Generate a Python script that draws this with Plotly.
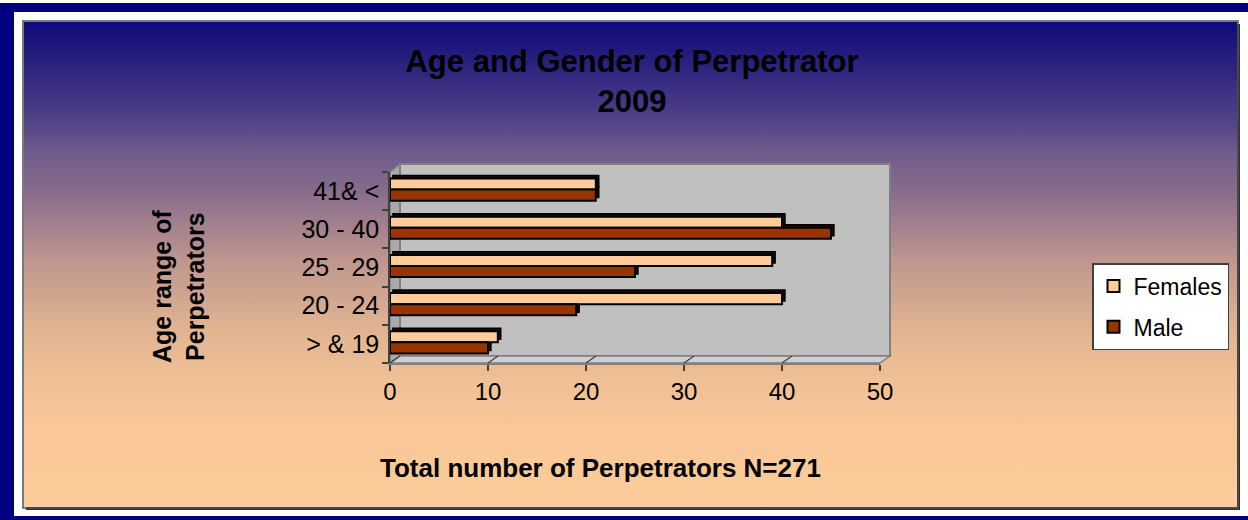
import base64
import plotly.graph_objects as go

# ---------------- data ----------------
categories = ["> & 19", "20 - 24", "25 - 29", "30 - 40", "41& <"]
females = [11, 40, 39, 40, 21]
males = [10, 19, 25, 45, 21]
tick_vals = [0, 10, 20, 30, 40, 50]
tick_text = ["0", "10", "20", "30", "40", "50"]

# ---------------- helpers (pixel -> paper) ----------------
W, H = 1248, 520


def px(x):
    return x / W


def py(y):
    return 1 - y / H


FONT = "Liberation Sans, Arial, sans-serif"
FEMALE_COLOR = "#FFCC99"
MALE_COLOR = "#993300"

# background gradient (navy -> peach) as an inline SVG image
grad_stops = [
    (0.00, "rgb(14,10,124)"),
    (0.08, "rgb(40,32,125)"),
    (0.20, "rgb(80,65,135)"),
    (0.265, "rgb(110,90,140)"),
    (0.35, "rgb(135,108,140)"),
    (0.49, "rgb(190,150,142)"),
    (0.635, "rgb(225,180,145)"),
    (0.74, "rgb(240,192,150)"),
    (0.86, "rgb(250,200,152)"),
    (1.00, "rgb(252,204,154)"),
]
stops_svg = "".join(
    f'<stop offset="{o}" stop-color="{c}"/>' for o, c in grad_stops
)
svg = (
    '<svg xmlns="http://www.w3.org/2000/svg" width="1215" height="487" '
    'preserveAspectRatio="none"><defs><linearGradient id="g" x1="0" y1="0" '
    f'x2="0" y2="1">{stops_svg}</linearGradient></defs>'
    '<rect x="0" y="0" width="1215" height="487" fill="url(#g)"/></svg>'
)
svg_src = "data:image/svg+xml;base64," + base64.b64encode(svg.encode()).decode()

BAR_W = 0.29
F_OFF = 0.04
M_OFF = -0.25
DEPTH_X = 0.3    # 3D depth in x units (~3 px)
DEPTH_Y = 0.08   # 3D depth in category units (~3 px)

fig = go.Figure()

# 3D depth faces (drawn first, behind the front faces)
for vals, off in ((females, F_OFF), (males, M_OFF)):
    fig.add_trace(go.Bar(
        y=categories, x=vals, base=DEPTH_X, orientation="h",
        xaxis="x2", yaxis="y2", width=BAR_W, offset=off + DEPTH_Y,
        marker=dict(color="#1a0a00", line=dict(color="black", width=1.5)),
        showlegend=False, hoverinfo="skip",
    ))

fig.add_trace(go.Bar(
    name="Females", y=categories, x=females, orientation="h",
    xaxis="x2", yaxis="y2", width=BAR_W, offset=F_OFF,
    marker=dict(color=FEMALE_COLOR, line=dict(color="black", width=2)),
    legendgroup="f", hoverinfo="x+y+name",
))
fig.add_trace(go.Bar(
    name="Male", y=categories, x=males, orientation="h",
    xaxis="x2", yaxis="y2", width=BAR_W, offset=M_OFF,
    marker=dict(color=MALE_COLOR, line=dict(color="black", width=2)),
    legendgroup="m", hoverinfo="x+y+name",
))

shapes = [
    # navy outer frame
    dict(type="rect", xref="paper", yref="paper", x0=0, x1=1, y0=py(12), y1=py(3),
         fillcolor="#000080", line=dict(width=0), layer="below"),
    dict(type="rect", xref="paper", yref="paper", x0=0, x1=px(14), y0=0, y1=py(3),
         fillcolor="#000080", line=dict(width=0), layer="below"),
    dict(type="rect", xref="paper", yref="paper", x0=0, x1=1, y0=0, y1=py(516),
         fillcolor="#000080", line=dict(width=0), layer="below"),
    # chart area shadow + border
    dict(type="rect", xref="paper", yref="paper", x0=px(1237), x1=px(1240), y0=py(510), y1=py(24),
         fillcolor="#303030", line=dict(width=0), layer="below"),
    dict(type="rect", xref="paper", yref="paper", x0=px(26), x1=px(1240), y0=py(510), y1=py(507),
         fillcolor="#303030", line=dict(width=0), layer="below"),
    dict(type="rect", xref="paper", yref="paper", x0=px(23), x1=px(1238), y0=py(508), y1=py(21),
         fillcolor="rgba(0,0,0,0)", line=dict(color="#505050", width=1.5), layer="below"),
    # left wall
    dict(type="path", xref="paper", yref="paper",
         path=f"M{px(390)},{py(363)} L{px(390)},{py(172)} L{px(400)},{py(164)} L{px(400)},{py(356)} Z",
         fillcolor="#a9a9a9", line=dict(color="#808080", width=1.5), layer="below"),
    # back wall
    dict(type="rect", xref="paper", yref="paper", x0=px(400), x1=px(890), y0=py(356), y1=py(164),
         fillcolor="#c0c0c0", line=dict(color="#808080", width=2), layer="below"),
    # floor
    dict(type="path", xref="paper", yref="paper",
         path=f"M{px(390)},{py(363)} L{px(880)},{py(363)} L{px(890)},{py(356)} L{px(400)},{py(356)} Z",
         fillcolor="#cfcfcf", line=dict(color="#808080", width=1.5), layer="below"),
]
# diagonal tick marks on the floor
for v in tick_vals:
    shapes.append(dict(type="line", xref="x2", yref="paper",
                       x0=v, x1=v + 10 / 9.8, y0=py(363), y1=py(356),
                       line=dict(color="#404040", width=1.2), layer="above"))

annotations = [
    dict(text="<b>Age range of<br>Perpetrators</b>", x=px(178), y=py(287),
         xref="paper", yref="paper", showarrow=False, textangle=-90,
         xanchor="center", yanchor="middle",
         font=dict(family=FONT, size=25, color="black")),
    dict(text="<b>Total number of Perpetrators N=271</b>", x=px(600), y=py(468),
         xref="paper", yref="paper", showarrow=False,
         xanchor="center", yanchor="middle",
         font=dict(family=FONT, size=26, color="black")),
]

fig.update_layout(
    template="none",
    width=W, height=H, autosize=False,
    margin=dict(l=0, r=0, t=0, b=0, pad=0),
    paper_bgcolor="white",
    plot_bgcolor="rgba(0,0,0,0)",
    font=dict(family=FONT, color="black"),
    barmode="overlay",
    title=dict(text="<b>Age and Gender of Perpetrator<br>2009</b>",
               x=px(632), y=py(72), xref="paper", yref="paper",
               xanchor="center", yanchor="middle",
               font=dict(family=FONT, size=31, color="black")),
    images=[dict(source=svg_src, xref="paper", yref="paper",
                 x=px(24), y=py(22), sizex=px(1237) - px(24), sizey=py(22) - py(507),
                 xanchor="left", yanchor="top", sizing="stretch", layer="below")],
    shapes=shapes,
    annotations=annotations,
    # back wall axes (gridlines)
    xaxis=dict(domain=[px(400), px(890)], range=[0, 50], anchor="y",
               tickvals=tick_vals, showticklabels=False, ticks="",
               showgrid=True, gridcolor="#555555", gridwidth=1.5,
               showline=False, zeroline=False, fixedrange=True, automargin=False),
    yaxis=dict(domain=[py(356), py(164)], range=[0, 1], anchor="x",
               showgrid=False, showticklabels=False, ticks="", showline=False,
               zeroline=False, fixedrange=True, automargin=False),
    # front axes (bars, ticks, labels)
    xaxis2=dict(domain=[px(390), px(880)], range=[0, 50], anchor="y2",
                tickvals=tick_vals, ticktext=tick_text,
                ticks="outside", ticklen=6, tickwidth=1.5, tickcolor="#404040",
                showline=True, linecolor="#808080", linewidth=1.5,
                showgrid=False, zeroline=False,
                tickfont=dict(family=FONT, size=24, color="black"),
                fixedrange=True, automargin=False),
    yaxis2=dict(domain=[py(363), py(172)], anchor="x2", type="category",
                categoryorder="array", categoryarray=categories,
                range=[-0.5, len(categories) - 0.5],
                ticks="outside", tickson="boundaries", ticklen=6, tickwidth=1.5,
                tickcolor="#404040", showline=True, linecolor="#404040", linewidth=1.5,
                showgrid=False, zeroline=False, ticklabelstandoff=4,
                tickfont=dict(family=FONT, size=25, color="black"),
                fixedrange=True, automargin=False),
    legend=dict(x=px(1092), y=py(263), xanchor="left", yanchor="top",
                bgcolor="white", bordercolor="#404040", borderwidth=1.5,
                font=dict(family=FONT, size=23, color="black"),
                traceorder="grouped", tracegroupgap=8,
                itemclick=False, itemdoubleclick=False),
    showlegend=True,
)

fig.write_html("out.html", include_plotlyjs=True,
               config={"displayModeBar": False},
               post_script="document.body.style.margin='0';document.body.style.overflow='hidden';")
